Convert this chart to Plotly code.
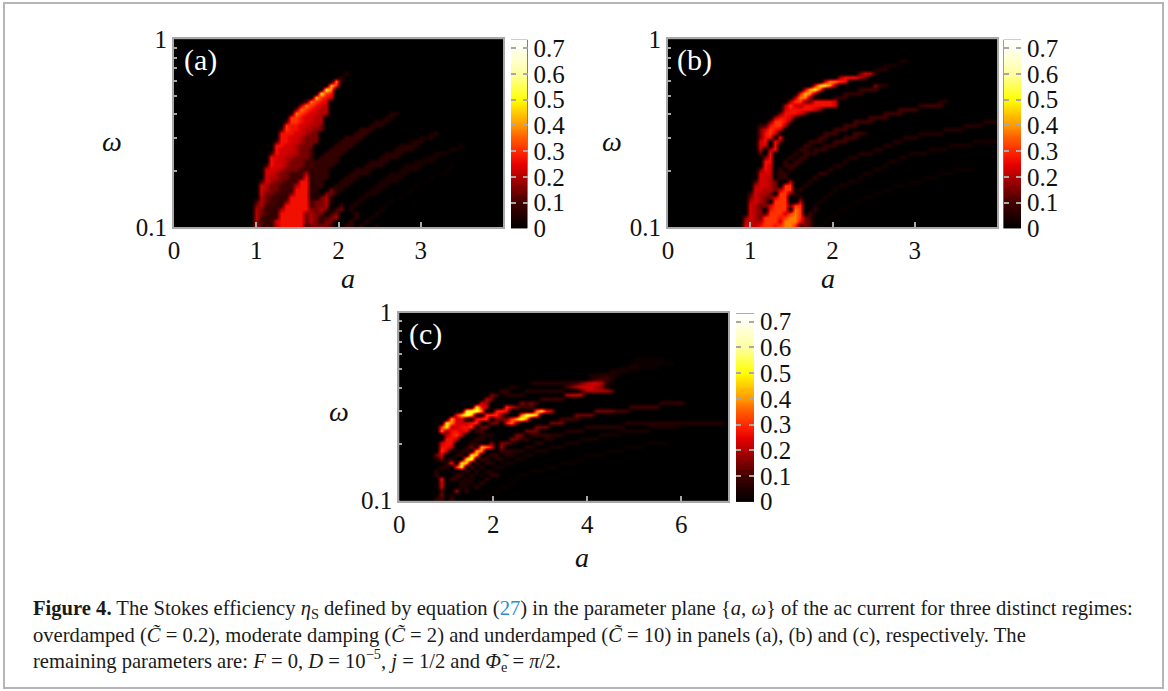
import numpy as np
import plotly.graph_objects as go

W, H = 1168, 691
NROWS, NCOLS = 47, 66

# efficiency value for each code used in the hand-read grids below
CODE_CHARS = list("abcd123456789AB")
CODE_VALUES = [0.02, 0.04, 0.06, 0.08, 0.05, 0.10, 0.15, 0.20, 0.23, 0.27, 0.31, 0.38, 0.44, 0.50, 0.56]

# each entry is one row of omega (top to bottom) as "column:codes" runs in a
A_ROWS = [
"","","","","","","","",
"34:c","33:d","32:8c","31:97","30:A8","29:A76","28:9765","26:28765",
"25:487654","24:3876544","23:18765544 43:cc","23:7765544 42:cc","22:27765544 40:ccc",
"22:76655443 39:ccc","21:276654433 37:ddd","21:66655433 36:ddd 51:bc",
"21:66554333 34:dddd 49:bbc","20:266554333 33:dddd 47:bcc","20:66554333 32:dddd 45:cccc 57:b",
"20:65554332 31:dddd 44:cccc 55:bb","19:265544332 30:dddd 42:cccc 52:bbb",
"19:655443332 29:dddd 41:cccc 50:bbb","19:655433322 28:ddddd 39:cccc 48:bbbb",
"18:2655433322 28:dddd 38:cccc 46:bbbb 55:a","18:555433322 27:dddd 36:cccc 45:bbbb 54:a",
"18:554332224 27:cddd 35:cccc 43:bbbb 53:a","18:54433222 26:6 27:cddd 34:ccc 42:bbbb 51:a",
"17:25433222 25:66 27:cdd 33:ccc 41:bbbb 50:a","17:5433222 24:466 27:cdd 32:ccc 40:bbb 48:a",
"17:543322d 24:666 27:cc 31:3cc 39:bbb 47:a","17:53322d 23:3666 27:cc 30:33c 38:bbb 46:a",
"17:4322d 22:d 23:6666 27:cb 29:34c 37:bb 45:a","16:24322d 22:36666 27:2 28:334 31:c 36:bb 43:a",
"16:3422dd 22:66666 27:2334 33:2 35:bb 42:a","16:432dd 21:466666 27:3343 32:23 35:c 41:b",
"16:432d 20:d 21:66666 26:3433 31:23 36:d 40:b","16:42dd 20:2 21:66666 26:343 29:d 30:234 36:d 39:b",
"16:42d 19:d 20:56666 25:6 26:3433 29:d33 35:d 38:c","16:42dd 20:466666 26:2333 29:332 34:dd 37:c 40:b",
]

B_ROWS = [
"","","","","",
"46:bb","43:bbb","41:bcc","38:355c","34:466643","31:58876",
"29:6AA8 33:3 41:3dc","27:59A7 38:d222","26:6983 35:dddd","25:4883 33:ddd",
"24:4773 28:3 29:66665 54:cc","23:475 26:46666665 50:d2222","23:5666665 30:3 46:2222",
"22:366653 43:2222","21:4665 25:2 40:2222","20:37763 37:2222 63:ccc",
"18:d26774 35:222 59:cccc","18:35765 33:222 55:cccc","18:3675 31:222 37:22c 50:ccccc",
"18:366 22:6 30:22 35:222 47:ccc","18:56 21:63 28:dd2 33:222 45:cc 61:bbbbb",
"18:55 21:6 27:dd 31:ddd 43:cc 56:bbbbb","18:4 20:46 26:dd 29:ddd 41:cc 52:bbbb",
"18:2 20:6 25:d 27:ddc 38:ccc 48:bbbb","19:36 24:d 26:dd 36:cc 46:bb",
"19:66 23:d 25:dd 35:c 44:bb","19:65 23:d 24:dd 33:cc 43:b",
"18:365 22:d 24:d 32:d 41:bb 57:aaaa","18:555 22:d 23:d 30:dd 39:bb 54:aaa",
"18:554 22:dd 29:d 38:b 51:aaa","17:2554 21:3 24:4 28:c 36:bb 48:aaa",
"17:45543 23:77 27:c 34:bb 45:aaa","17:55443 22:477 26:d 33:b 43:aa",
"16:25443 22:773 25:d 32:b 41:aa","16:35433 21:577 26:d 31:b 39:aa",
"16:4543 21:777 26:4 30:b 37:aa","16:5433 20:57773 25:77 29:b 36:a",
"16:543 20:6777 25:87 29:d 34:aa","16:543 19:27775 24:787 28:2 33:a",
"15:3543 19:7776 23:7887 27:32 32:a","15:454 18:4777 22:58886 27:32 31:a",
"15:554 18:6776 22:7887 26:232 30:a",
]

C_ROWS = [
"","","","","","","","","","","",
"47:aaaaaa","46:aaaaaaaaa","44:aabbaaaa","42:bbbbaa","38:bbccbb","38:cd22c",
"26:bcccccc 33:cd234554c","22:cb 33:2345554 40:3c","20:dd 25:cccccccc 36:2444443",
"18:32 21:cccc 33:4554","17:43 28:d2d2d","16:54 24:323d 52:ddddd",
"15:A64 21:7532 25:22 46:222222","13:ABB8 19:676 27:8A65 39:3333222",
"11:69B9 17:777 20:3 24:8BB9 35:3333","10:95 12:5 15:677 19:33 21:37 23:9B8 32:2222",
"9:A8 11:555 14:67 18:33 21:683 30:333 45:cccccccccccc 57:cccccccc",
"8:7A 10:4566 13:67 16:33 27:333 37:cccccccc 50:bbbbbb",
"8:8 9:36656 15:22 25:333 33:cccc 44:bbbbbb",
"9:4675 16:ccc 23:33 26:dddd 30:ccc 40:bbbb",
"9:665 15:cc 22:33 24:dd 29:cc 36:bbbb",
"8:566 14:cc 18:3 20:33 22:d 27:cc 33:bbb 49:aaaaa",
"8:665 13:c 14:3 16:986 20:4 25:cc 30:bbb 45:aaaa",
"8:75 12:cc 15:98 20:ddd 23:cc 27:bbb 41:aaaa",
"7:35 11:cc 14:A9 18:dd 21:cc 25:bb 37:aaaa",
"7:c3 10:c 13:AB 16:dd 19:cc 23:bb 35:aa",
"9:c 10:6 12:A9 15:d 17:cc 21:bb 32:aaa",
"8:cc 11:7A 14:d 16:c 19:bb 29:aaa",
"7:c 13:d 15:c 17:bb 26:aaa",
"7:d 11:dd 14:c 16:b 18:dd 24:aa",
"8:6 10:dd 13:c 14:b 17:d 23:a",
"8:5 12:c 13:bb 16:d 22:a",
"8:5 12:bb 15:d 20:aa",
"8:2 11:4 13:d 19:a",
"8:3 10:b 17:aa",
"7:d 8:2 10:2 16:a",
]

A_MAX = [4, 4, 7]
X_TICKS = [[0, 1, 2, 3], [0, 1, 2, 3], [0, 2, 4, 6]]
OMEGA_MINOR = [0.2, 0.3, 0.4, 0.5, 0.6, 0.7, 0.8, 0.9]
OMEGA_TICKS = [0.1, 1]
OMEGA_TEXT = ["0.1", "1"]
BAR_TICKS = [0, 0.1, 0.2, 0.3, 0.4, 0.5, 0.6, 0.7]
BAR_TEXT = ["0", "0.1", "0.2", "0.3", "0.4", "0.5", "0.6", "0.7"]
Z_MAX = 0.733

COLORSCALE = [
    [0.0, "#000000"], [0.136, "#400000"], [0.273, "#b00000"], [0.341, "#e80000"],
    [0.409, "#ff2800"], [0.477, "#ff5800"], [0.546, "#ff9800"], [0.614, "#ffc800"],
    [0.682, "#ffff00"], [0.819, "#ffffa0"], [0.955, "#fffff0"], [1.0, "#ffffff"],
]
SERIF = "Liberation Serif"
GRAY = "#a8a8a8"
TICK_FONT = dict(family=SERIF, size=25, color="#111")


def grid(rows):
    lookup = dict(zip(CODE_CHARS, CODE_VALUES))
    z = np.zeros((NROWS, NCOLS))
    for r, row in enumerate(rows):
        for run in row.split():
            start, codes = run.split(":")
            for k, ch in enumerate(codes):
                z[r, int(start) + k] = lookup[ch]
    return z.tolist()


def px(x0, x1):
    return [x0 / W, x1 / W]


def py(top, bottom):
    return [1 - bottom / H, 1 - top / H]


PANELS = [
    (A_ROWS, (174, 503), (39.3, 227.3), (511, 527.5), "(a)"),
    (B_ROWS, (668, 997), (39.3, 227.3), (1003.5, 1021), "(b)"),
    (C_ROWS, (399.3, 728.3), (312.7, 500.7), (736, 754), "(c)"),
]

fig = go.Figure()
layout = {}
annotations = []
y_rows = [10 ** (-(r + 0.5) / NROWS) for r in range(NROWS)]
bar_levels = [Z_MAX * i / 100 for i in range(101)]

for i, (rows, xr, yr, bar, label) in enumerate(PANELS):
    n = 2 * i + 1
    xa, ya, xb, yb = f"x{n}", f"y{n}", f"x{n+1}", f"y{n+1}"
    x_cols = [(c + 0.5) * A_MAX[i] / NCOLS for c in range(NCOLS)]
    fig.add_trace(go.Heatmap(
        z=grid(rows), x=x_cols, y=y_rows, xaxis=xa, yaxis=ya,
        zmin=0, zmax=Z_MAX, colorscale=COLORSCALE, zsmooth="best", showscale=False,
    ))
    fig.add_trace(go.Heatmap(
        z=[[v] for v in bar_levels], x=[0.5], y=bar_levels, xaxis=xb, yaxis=yb,
        zmin=0, zmax=Z_MAX, colorscale=COLORSCALE, zsmooth="best", showscale=False,
    ))
    layout[f"xaxis{n}"] = dict(
        domain=px(*xr), range=[0, A_MAX[i]], anchor=ya,
        tickmode="array", tickvals=X_TICKS[i], ticktext=[str(t) for t in X_TICKS[i]],
        ticks="inside", ticklen=5, tickwidth=1.5, tickcolor=GRAY, ticklabelstandoff=0,
        showline=True, linecolor=GRAY, linewidth=2, mirror=True, showgrid=False, zeroline=False,
        tickfont=TICK_FONT,
    )
    layout[f"yaxis{n}"] = dict(
        domain=py(*yr), type="log", range=[-1, 0], anchor=xa,
        tickmode="array", tickvals=OMEGA_TICKS, ticktext=OMEGA_TEXT,
        ticks="inside", ticklen=5, tickwidth=1.5, tickcolor=GRAY, ticklabelstandoff=0,
        minor=dict(tickmode="array", tickvals=OMEGA_MINOR, ticks="inside", ticklen=3, tickwidth=1.5,
                   tickcolor=GRAY, showgrid=False),
        showline=True, linecolor=GRAY, linewidth=2, mirror=True, showgrid=False, zeroline=False,
        tickfont=TICK_FONT,
    )
    layout[f"xaxis{n+1}"] = dict(domain=px(*bar), range=[0, 1], anchor=yb, visible=False)
    layout[f"yaxis{n+1}"] = dict(
        domain=py(yr[0] + 0.5, yr[1] + 1), range=[0, Z_MAX], anchor=xb, side="right",
        tickmode="array", tickvals=BAR_TICKS, ticktext=BAR_TEXT,
        ticks="inside", ticklen=5, tickwidth=1.5, tickcolor=GRAY, mirror="allticks", ticklabelstandoff=5,
        showline=False, showgrid=False, zeroline=False,
        tickfont=TICK_FONT,
    )
    # panel letter
    annotations.append(dict(
        x=xr[0] + 26, y=yr[0] + 21, text=label, showarrow=False,
        xref="paper", yref="paper", xanchor="center", yanchor="middle",
        font=dict(family=SERIF, size=30, color="white"),
    ))

AXIS_LABELS = [
    ("ω", 112, 141), ("a", 348, 278),
    ("ω", 612, 141), ("a", 828, 278),
    ("ω", 339, 411), ("a", 582, 557),
]
for txt, x, y in AXIS_LABELS:
    annotations.append(dict(x=x, y=y, text=f"<i>{txt}</i>", showarrow=False, xref="paper", yref="paper",
                            xanchor="center", yanchor="middle",
                            font=dict(family=SERIF, size=28, color="#111")))

CAPTION = [
    ("<b>Figure 4.</b> The Stokes efficiency <i>η</i><sub>S</sub> defined by equation "
     "(<span style='color:#2a8fc4'>27</span>) in the parameter plane {<i>a</i>, <i>ω</i>} of the ac current "
     "for three distinct regimes:", 609),
    ("overdamped (<i>C\u0303</i> = 0.2), moderate damping (<i>C\u0303</i> = 2) and underdamped "
     "(<i>C\u0303</i> = 10) in panels (a), (b) and (c), respectively. The", 635),
    ("remaining parameters are: <i>F</i> = 0, <i>D</i> = 10<sup>−5</sup>, <i>j</i> = 1/2 and "
     "<i>Φ\u0303</i><sub>e</sub> = <i>π</i>/2.", 660),
]
for txt, y in CAPTION:
    annotations.append(dict(x=31, y=y, text=txt, showarrow=False, xref="paper", yref="paper",
                            xanchor="left", yanchor="middle", align="left",
                            font=dict(family=SERIF, size=20.6, color="#1a1a1a")))

# convert pixel-placed annotations to paper fractions
for ann in annotations:
    ann["x"] = ann["x"] / W
    ann["y"] = 1 - ann["y"] / H

fig.update_layout(
    width=W, height=H, margin=dict(l=0, r=0, t=0, b=0, autoexpand=False),
    paper_bgcolor="white", plot_bgcolor="black", showlegend=False,
    annotations=annotations,
    shapes=[dict(type="rect", xref="paper", yref="paper",
                 x0=4 / W, x1=1163 / W, y0=1 - 688 / H, y1=1 - 3 / H,
                 line=dict(color="#b5b5b5", width=2), layer="below")],
    **layout,
)
fig.write_html("out.html", config={"displayModeBar": False},
               post_script="document.body.style.margin='0';document.body.style.overflow='hidden';")
